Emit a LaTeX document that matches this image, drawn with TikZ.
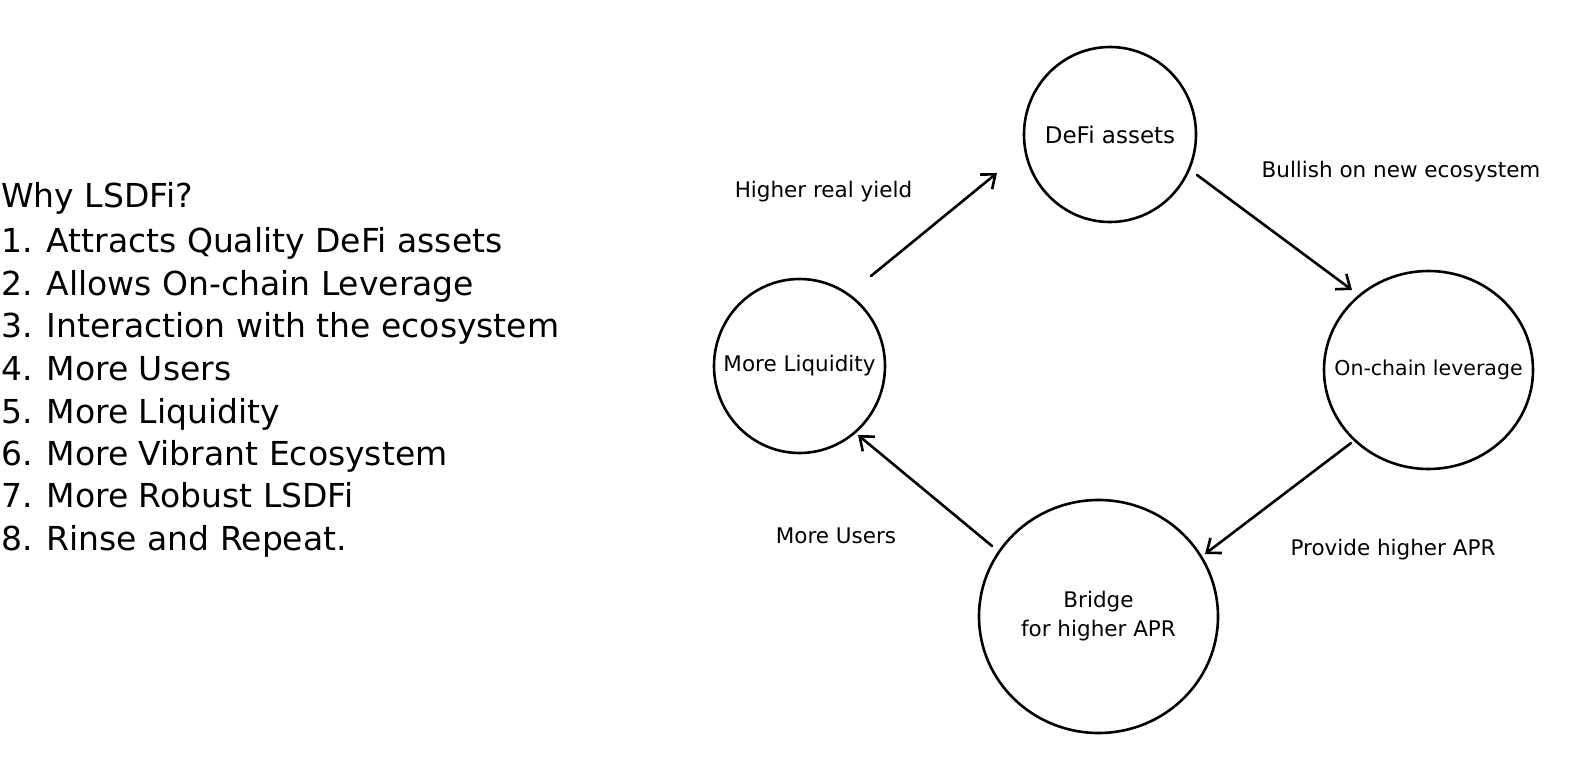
\documentclass[tikz,border=0pt]{standalone}
\usepackage{fontspec}
\setmainfont{DejaVu Sans}
\usetikzlibrary{shapes.geometric,arrows.meta}
\begin{document}
\begin{tikzpicture}[x=1pt,y=-1pt,
  bubble/.style={draw=black, line width=2.6pt, ellipse, inner sep=0pt, font=\fontsize{21.5}{29}\selectfont, align=center},
  lbl/.style={anchor=base, inner sep=0pt, font=\fontsize{21.5}{29}\selectfont},
  listline/.style={anchor=base west, inner sep=0pt, font=\fontsize{33}{40}\selectfont},
  arr/.style={draw=black, line width=2.6pt, line cap=round, -{Straight Barb[length=12pt,width=19pt]}}]
\path[use as bounding box, fill=white] (0,0) rectangle (1596,762);

% left list
\node[listline] (l0) at (1,208) {Why LSDFi?};
\node[listline] (l1) at (1,252) {1. Attracts Quality DeFi assets};
\node[listline] (l2) at (1,295) {2. Allows On-chain Leverage};
\node[listline] (l3) at (1,337) {3. Interaction with the ecosystem};
\node[listline] (l4) at (1,380) {4. More Users};
\node[listline] (l5) at (1,423) {5. More Liquidity};
\node[listline] (l6) at (1,465) {6. More Vibrant Ecosystem};
\node[listline] (l7) at (1,507) {7. More Robust LSDFi};
\node[listline] (l8) at (1,550) {8. Rinse and Repeat.};

% cycle
\node[bubble, minimum width=172pt, minimum height=175pt, font=\fontsize{23}{29}\selectfont] (defi) at (1110,134.5) {\makebox[0pt]{DeFi assets}};
\node[bubble, minimum width=171pt, minimum height=174pt] (liq) at (799.5,366) {\makebox[0pt]{More Liquidity}};
\node[bubble, minimum width=209pt, minimum height=198pt, font=\fontsize{20.5}{27}\selectfont] (lev) at (1428.5,370) {\makebox[0pt]{On-chain leverage}};
\node[bubble, minimum width=239pt, minimum height=233pt] (bridge) at (1098.5,616.5) {Bridge\\for higher APR};

\draw[arr] ([shift={(71.5,-90)}]liq.center) -- ([shift={(-113,38.5)}]defi.center);
\draw[arr] ([shift={(87,40.5)}]defi.center) -- ([shift={(-76.5,-80)}]lev.center);
\draw[arr] ([shift={(-77.5,73)}]lev.center) -- ([shift={(106.5,-62.5)}]bridge.center);
\draw[arr] ([shift={(-106.5,-70.5)}]bridge.center) -- ([shift={(58.5,69)}]liq.center);

\node[lbl] (t1) at (823.5,198) {Higher real yield};
\node[lbl] (t2) at (1401,178) {Bullish on new ecosystem};
\node[lbl] (t3) at (1393,555) {Provide higher APR};
\node[lbl] (t4) at (836,543) {More Users};
\end{tikzpicture}
\end{document}
